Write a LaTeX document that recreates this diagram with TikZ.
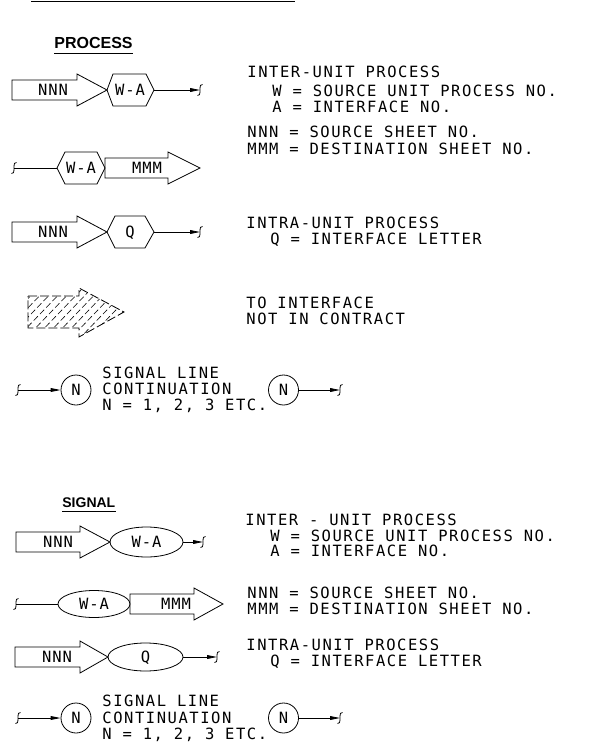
\documentclass[tikz,border=0pt]{standalone}
\usepackage{fontspec}
\usetikzlibrary{arrows.meta,shapes.geometric}
\newfontfamily\cadfont[LetterSpace=10]{DejaVu Sans Mono}
\newfontfamily\lblfont[LetterSpace=6]{DejaVu Sans Mono}
\newfontfamily\headfont{Liberation Sans}
\begin{document}
\begin{tikzpicture}[x=1pt,y=-1pt,line width=0.8pt,
  cad/.style={font=\cadfont\fontsize{15.5}{17}\selectfont,inner sep=0,anchor=base west},
  lbl/.style={font=\lblfont\fontsize{15.5}{17}\selectfont,inner sep=0,anchor=base},
  head/.style={font=\headfont\bfseries\fontsize{16}{19}\selectfont,inner sep=0,anchor=base west},
  shp/.style={draw,line join=miter},
  sig/.style={-{Triangle[length=10pt,width=3.8pt]}},
  circ/.style={draw,circle,minimum size=30pt,inner sep=0,font=\lblfont\fontsize{15.5}{17}\selectfont},
  brk/.pic={\draw[line width=0.8pt] (2.5,-5.5) .. controls (0.5,-6.5) and (0,-4) .. (0,0) .. controls (0,4) and (-0.5,6.5) .. (-2.5,5.5);}
]
\useasboundingbox (0,0) rectangle (595,749);
\coordinate (tl1) at (31,1.5); \coordinate (tl2) at (295,1.5);
\draw (tl1) -- (tl2);

% ===== PROCESS =====
\node[head] (ph) at (54,49) {PROCESS};
\draw ([yshift=-4pt]ph.base west) -- ([yshift=-4pt]ph.base east);

% row 1
\draw[shp] (12,80) -- (77,80) -- (77,74) -- (107,90) -- (77,106) -- (77,100) -- (12,100) -- cycle;
\node[lbl] (p1n) at (53,95.5) {NNN};
\draw[shp] (107,90) -- (113,74) -- (146,74) -- (154,90) -- (146,106) -- (113,106) -- cycle;
\node[lbl] (p1h) at (130,95.5) {W-A};
\coordinate (p1o) at (154,90); \coordinate (p1e) at (200,90);
\draw[sig] (p1o) -- (p1e); \pic at (p1e) {brk};
\node[cad] (t1a) at (247,78) {INTER-UNIT PROCESS};
\node[cad] (t1b) at (272,97) {W = SOURCE UNIT PROCESS NO.};
\node[cad] (t1c) at (272,113) {A = INTERFACE NO.};

% row 2
\coordinate (p2s) at (14,168); \coordinate (p2i) at (57,168);
\pic at (p2s) {brk}; \draw (p2s) -- (p2i);
\draw[shp] (57,168) -- (65,152) -- (97,152) -- (105,168) -- (97,184) -- (65,184) -- cycle;
\node[lbl] (p2h) at (81,173.5) {W-A};
\draw[shp] (105,158) -- (168,158) -- (168,152) -- (200,168) -- (168,184) -- (168,178) -- (105,178) -- cycle;
\node[lbl] (p2m) at (147,173.5) {MMM};
\node[cad] (t2a) at (247,138) {NNN = SOURCE SHEET NO.};
\node[cad] (t2b) at (247,154) {MMM = DESTINATION SHEET NO.};

% row 3
\draw[shp] (12,222) -- (77,222) -- (77,216) -- (107,232) -- (77,248) -- (77,242) -- (12,242) -- cycle;
\node[lbl] (p3n) at (53,237.5) {NNN};
\draw[shp] (107,232) -- (115,216) -- (145,216) -- (154,232) -- (145,248) -- (115,248) -- cycle;
\node[lbl] (p3h) at (130,237.5) {Q};
\coordinate (p3o) at (154,232); \coordinate (p3e) at (200,232);
\draw[sig] (p3o) -- (p3e); \pic at (p3e) {brk};
\node[cad] (t3a) at (246,228) {INTRA-UNIT PROCESS};
\node[cad] (t3b) at (270,244) {Q = INTERFACE LETTER};

% hatched arrow
\begin{scope}
  \clip (28,296) -- (79,296) -- (79,288) -- (124,312) -- (79,337) -- (79,328) -- (28,328) -- cycle;
  \foreach \k in {-30,-21,...,130} {
    \draw[line width=0.6pt,dash pattern=on 6pt off 3pt] (\k,340) -- (\k+52,286);
  }
\end{scope}
\draw[dash pattern=on 9pt off 3pt] (28,296) -- (79,296) -- (79,288) -- (124,312) -- (79,337) -- (79,328) -- (28,328) -- cycle;
\node[cad] (t4a) at (246,308) {TO INTERFACE};
\node[cad] (t4b) at (246,324) {NOT IN CONTRACT};

% continuation
\coordinate (p5s) at (18,390);
\node[circ] (p5c) at (76,390) {N};
\pic at (p5s) {brk}; \draw[sig] (p5s) -- (p5c);
\node[cad] (t5a) at (102,378) {SIGNAL LINE};
\node[cad] (t5b) at (102,394) {CONTINUATION};
\node[cad] (t5c) at (102,410) {N = 1, 2, 3 ETC.};
\node[circ] (p5d) at (283.5,390) {N};
\coordinate (p5e) at (340,390);
\draw[sig] (p5d) -- (p5e); \pic at (p5e) {brk};

% ===== SIGNAL =====
\node[head,font=\headfont\bfseries\fontsize{14}{17}\selectfont] (sh) at (62,507) {SIGNAL};
\draw ([yshift=-4pt]sh.base west) -- ([yshift=-4pt]sh.base east);

% S1
\draw[shp] (16,532) -- (80,532) -- (80,526) -- (110,542) -- (80,558) -- (80,552) -- (16,552) -- cycle;
\node[lbl] (s1n) at (58,547.5) {NNN};
\node[draw,ellipse,minimum width=73pt,minimum height=30pt,inner sep=0] (s1e) at (146.5,542) {};
\node[lbl] (s1h) at (146.5,547.5) {W-A};
\coordinate (s1x) at (203,542);
\draw[sig] (s1e) -- (s1x); \pic at (s1x) {brk};
\node[cad] (u1a) at (245,525) {INTER - UNIT PROCESS};
\node[cad] (u1b) at (270,541) {W = SOURCE UNIT PROCESS NO.};
\node[cad] (u1c) at (270,556) {A = INTERFACE NO.};

% S2
\coordinate (s2s) at (16,604);
\node[draw,ellipse,minimum width=72pt,minimum height=27pt,inner sep=0] (s2e) at (94,604) {};
\node[lbl] (s2h) at (94,609.5) {W-A};
\pic at (s2s) {brk}; \draw (s2s) -- (s2e);
\draw[shp] (130,594) -- (194,594) -- (194,588) -- (223,604) -- (194,620) -- (194,614) -- (130,614) -- cycle;
\node[lbl] (s2m) at (176,609.5) {MMM};
\node[cad] (u2a) at (247,598) {NNN = SOURCE SHEET NO.};
\node[cad] (u2b) at (247,614) {MMM = DESTINATION SHEET NO.};

% S3
\draw[shp] (15,647) -- (80,647) -- (80,641) -- (108,657) -- (80,673) -- (80,667) -- (15,667) -- cycle;
\node[lbl] (s3n) at (57,662.5) {NNN};
\node[draw,ellipse,minimum width=75pt,minimum height=28pt,inner sep=0] (s3e) at (145.5,657) {};
\node[lbl] (s3h) at (145.5,662.5) {Q};
\coordinate (s3x) at (217,657);
\draw[sig] (s3e) -- (s3x); \pic at (s3x) {brk};
\node[cad] (u3a) at (246,650) {INTRA-UNIT PROCESS};
\node[cad] (u3b) at (270,666) {Q = INTERFACE LETTER};

% S4
\coordinate (s4s) at (18,718);
\node[circ] (s4c) at (76,718) {N};
\pic at (s4s) {brk}; \draw[sig] (s4s) -- (s4c);
\node[cad] (u4a) at (102,706) {SIGNAL LINE};
\node[cad] (u4b) at (102,723) {CONTINUATION};
\node[cad] (u4c) at (102,739) {N = 1, 2, 3 ETC.};
\node[circ] (s4d) at (283.5,718) {N};
\coordinate (s4e) at (340,718);
\draw[sig] (s4d) -- (s4e); \pic at (s4e) {brk};
\end{tikzpicture}
\end{document}
